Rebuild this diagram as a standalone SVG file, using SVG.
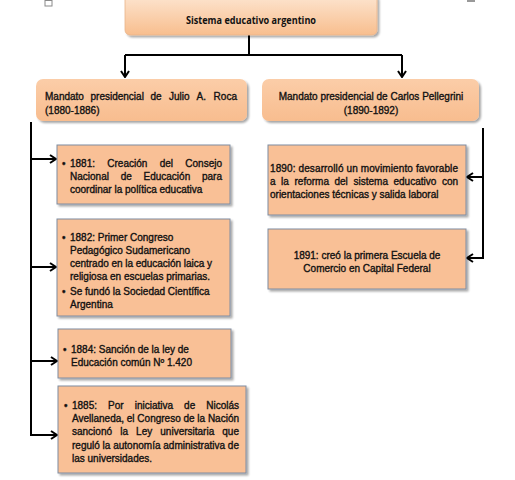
<svg xmlns="http://www.w3.org/2000/svg" width="515" height="480" viewBox="0 0 515 480">
<defs>
<linearGradient id="gTop" x1="0" y1="0" x2="0" y2="1">
<stop offset="0" stop-color="#FDE6D2"/><stop offset="1" stop-color="#F8BE8E"/>
</linearGradient>
<linearGradient id="gMand" x1="0" y1="0" x2="0" y2="1">
<stop offset="0" stop-color="#FBCDA8"/><stop offset="1" stop-color="#F8BD8F"/>
</linearGradient>
<filter id="sh" x="-5%" y="-5%" width="112%" height="120%">
<feGaussianBlur in="SourceAlpha" stdDeviation="1.2"/>
<feOffset dx="1.5" dy="2" result="b"/>
<feComponentTransfer><feFuncA type="linear" slope="0.35"/></feComponentTransfer>
<feMerge><feMergeNode/><feMergeNode in="SourceGraphic"/></feMerge>
</filter>
<marker id="ah" markerWidth="8" markerHeight="10" refX="7" refY="5" orient="auto" markerUnits="userSpaceOnUse">
<path d="M1,1 L7,5 L1,9" fill="none" stroke="#000" stroke-width="2"/>
</marker>
</defs>
<style>
.t{font-family:"Liberation Sans",Arial,sans-serif;font-size:10px;fill:#111;stroke:#111;stroke-width:0.35}
.c{text-anchor:middle}
.box{fill:#F9C096;stroke:#7E8CA0;stroke-width:1;filter:url(#sh)}
.ln{fill:none;stroke:#000;stroke-width:2}
</style>
<rect width="515" height="480" fill="#fff"/>
<rect x="45" y="0.5" width="7" height="5.5" fill="#fff" stroke="#8a8a8a" stroke-width="1"/>
<rect x="467" y="0" width="8" height="2" fill="#999"/>

<g id="connectors">
<path class="ln" d="M249,35 V55 M125,55 H402"/>
<path class="ln" d="M125,55 V77" marker-end="url(#ah)"/>
<path class="ln" d="M402,55 V77" marker-end="url(#ah)"/>
<path class="ln" d="M31,122 V435"/>
<path class="ln" d="M31,159 H56" marker-end="url(#ah)"/>
<path class="ln" d="M31,267 H56" marker-end="url(#ah)"/>
<path class="ln" d="M31,361 H57" marker-end="url(#ah)"/>
<path class="ln" d="M30,435 H57" marker-end="url(#ah)"/>
<path class="ln" d="M483,128 V259"/>
<path class="ln" d="M483,177 H467" marker-end="url(#ah)"/>
<path class="ln" d="M484,258 H467" marker-end="url(#ah)"/>
</g>

<g id="n-top">
<rect x="125" y="-6" width="252" height="41" rx="5" fill="url(#gTop)" stroke="#E9B48A" stroke-width="0.8" filter="url(#sh)"/>
<text x="251" y="24" class="c" font-family="'Open Sans','Noto Sans',sans-serif" font-weight="700" font-size="10" fill="#111" textLength="130" lengthAdjust="spacingAndGlyphs">Sistema educativo argentino</text>
</g>

<g id="n-roca">
<rect x="36" y="79" width="211" height="42" rx="7" fill="url(#gMand)" filter="url(#sh)"/>
<text class="t" y="100"><tspan x="45">Mandato</tspan><tspan x="90.5">presidencial</tspan><tspan x="150.5">de</tspan><tspan x="169">Julio</tspan><tspan x="196.5">A.</tspan><tspan x="213.6">Roca</tspan></text>
<text class="t" x="45" y="114">(1880-1886)</text>
</g>

<g id="n-pellegrini">
<rect x="262" y="79" width="217" height="42" rx="7" fill="url(#gMand)" filter="url(#sh)"/>
<text class="t c" x="371" y="100">Mandato presidencial de Carlos Pellegrini</text>
<text class="t c" x="371" y="114">(1890-1892)</text>
</g>

<g id="n-1881">
<rect class="box" x="57" y="145" width="173" height="59"/>
<text class="t" x="62" y="167">•</text>
<text class="t" y="167"><tspan x="70">1881:</tspan><tspan x="107.3">Creación</tspan><tspan x="159.7">del</tspan><tspan x="185.3">Consejo</tspan></text>
<text class="t" y="180"><tspan x="70">Nacional</tspan><tspan x="120.7">de</tspan><tspan x="143.5">Educación</tspan><tspan x="202">para</tspan></text>
<text class="t" x="70" y="193">coordinar la política  educativa</text>
</g>

<g id="n-1882">
<rect class="box" x="57" y="219" width="173" height="97"/>
<text class="t" x="62" y="241">•</text>
<text class="t" x="70" y="241">1882: Primer Congreso</text>
<text class="t" x="70" y="254">Pedagógico Sudamericano</text>
<text class="t" x="70" y="267" textLength="142" lengthAdjust="spacing">centrado en la educación laica y</text>
<text class="t" x="70" y="280">religiosa en escuelas primarias.</text>
<text class="t" x="62" y="295">•</text>
<text class="t" x="70" y="295">Se fundó la Sociedad Científica</text>
<text class="t" x="70" y="308">Argentina</text>
</g>

<g id="n-1884">
<rect class="box" x="58" y="329" width="173" height="49"/>
<text class="t" x="63" y="353">•</text>
<text class="t" x="71" y="353">1884: Sanción de la ley de</text>
<text class="t" x="71" y="366">Educación común Nº 1.420</text>
</g>

<g id="n-1885">
<rect class="box" x="58" y="386" width="188" height="87"/>
<text class="t" x="64" y="409">•</text>
<text class="t" y="409"><tspan x="72">1885:</tspan><tspan x="108.1">Por</tspan><tspan x="134.7">iniciativa</tspan><tspan x="184.1">de</tspan><tspan x="206.2">Nicolás</tspan></text>
<text class="t" x="72" y="422" textLength="167" lengthAdjust="spacing">Avellaneda, el Congreso de la Nación</text>
<text class="t" y="435"><tspan x="72">sancionó</tspan><tspan x="120.2">la</tspan><tspan x="136.1">Ley</tspan><tspan x="160.3">universitaria</tspan><tspan x="222.3">que</tspan></text>
<text class="t" x="72" y="449" textLength="167" lengthAdjust="spacing">reguló la autonomía administrativa de</text>
<text class="t" x="72" y="462">las universidades.</text>
</g>

<g id="n-1890">
<rect class="box" x="268" y="145" width="198" height="70"/>
<text class="t" x="270" y="172" textLength="188" lengthAdjust="spacing">1890: desarrolló un movimiento favorable</text>
<text class="t" y="185"><tspan x="270">a</tspan><tspan x="281.1">la</tspan><tspan x="294.5">reforma</tspan><tspan x="334.5">del</tspan><tspan x="353.5">sistema</tspan><tspan x="393.5">educativo</tspan><tspan x="441.9">con</tspan></text>
<text class="t" x="270" y="198">orientaciones técnicas y salida laboral</text>
</g>

<g id="n-1891">
<rect class="box" x="268" y="229" width="198" height="60"/>
<text class="t c" x="367" y="259">1891: creó la primera Escuela de</text>
<text class="t c" x="367" y="272">Comercio en Capital Federal</text>
</g>
</svg>
